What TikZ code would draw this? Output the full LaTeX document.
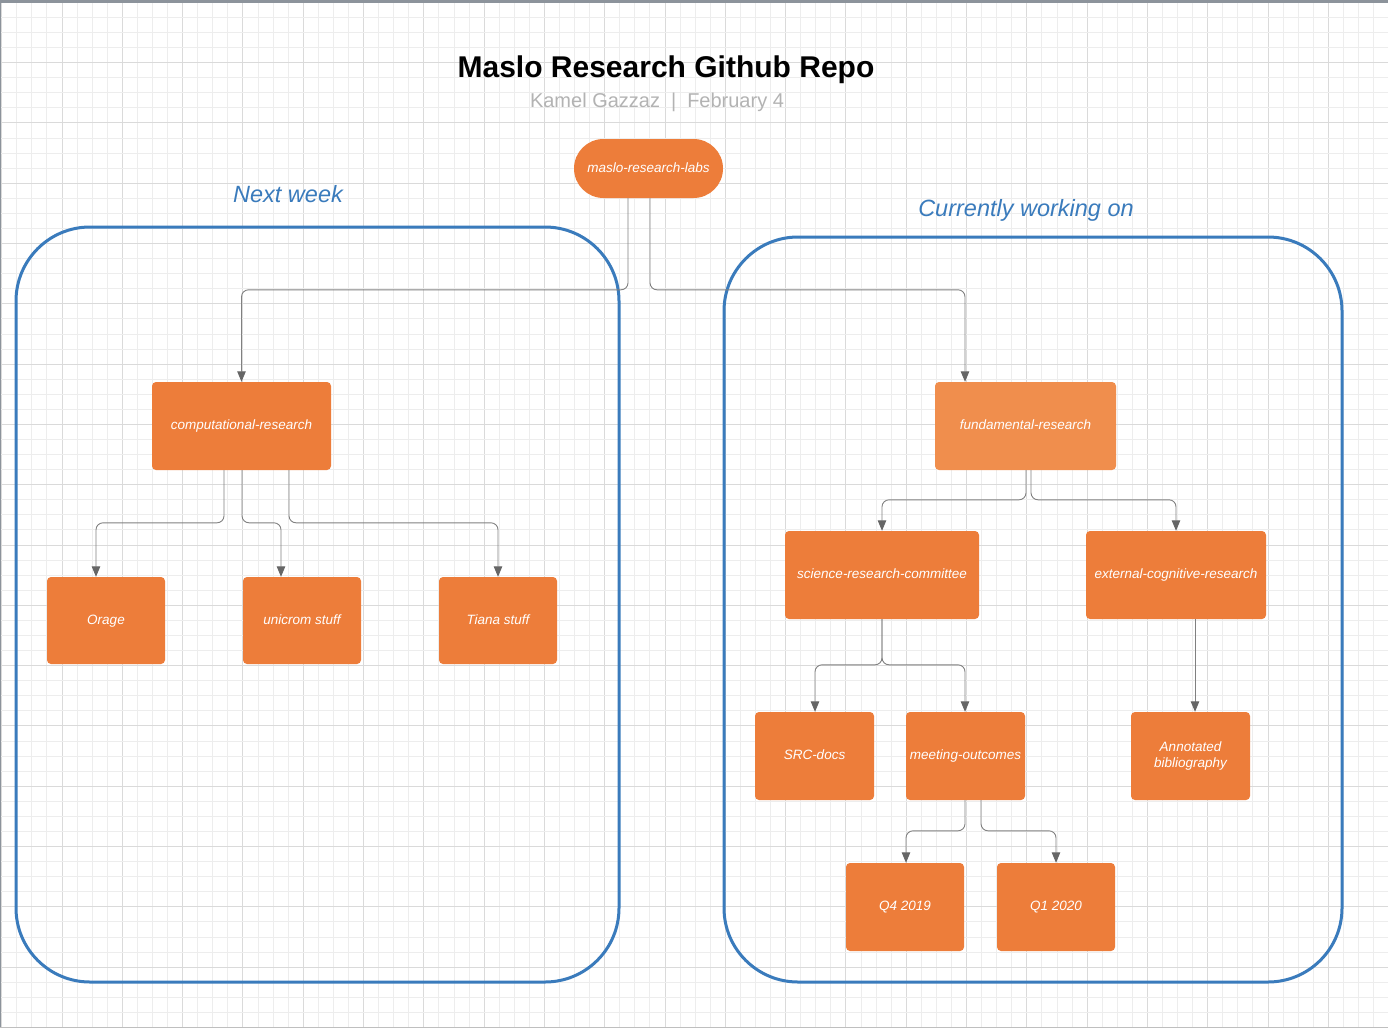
\documentclass[tikz,border=0pt]{standalone}
\usepackage{fontspec}
\setmainfont{Liberation Sans}
\usetikzlibrary{arrows.meta,calc}
\definecolor{boxorange}{HTML}{ED7D3A}
\definecolor{boxlight}{HTML}{F08E4D}
\definecolor{contblue}{HTML}{3A7BBC}
\definecolor{conngray}{HTML}{808080}
\definecolor{tipgray}{HTML}{666666}
\definecolor{gridminor}{HTML}{EDEDED}
\definecolor{gridmajor}{HTML}{DADADA}
\definecolor{framegray}{HTML}{8C939B}
\definecolor{subgray}{HTML}{B3B3B3}
\tikzset{
  orangebox/.style={fill=boxorange, draw=none, rounded corners=4pt, inner sep=0pt,
    text=white, font=\fontsize{13.5}{16}\selectfont\itshape, align=center,
    text height=9.8pt, text depth=2.6pt},
  conn/.style={draw=conngray, line width=0.9pt, rounded corners=7pt,
    -{Triangle[width=8.5pt,length=10.5pt,fill=tipgray,color=tipgray]}},
  container/.style={draw=contblue, line width=3pt, rounded corners=74pt},
  sectionlabel/.style={text=contblue, font=\fontsize{23.5}{28}\selectfont\itshape, anchor=base, inner sep=0pt},
}
\begin{document}
\begin{tikzpicture}[x=1pt,y=-1pt]
\useasboundingbox (0,0) rectangle (1388,1028);
\fill[white] (0,0) rectangle (1388,1028);
% grid
\foreach \i in {0,...,92} {
  \pgfmathsetmacro{\gx}{1.7+\i*15.075}
  \pgfmathtruncatemacro{\m}{mod(\i,4)}
  \ifnum\m=0
    \draw[gridmajor, line width=0.9pt] (\gx,0) -- (\gx,1028);
  \else
    \draw[gridminor, line width=0.9pt] (\gx,0) -- (\gx,1028);
  \fi
}
\foreach \i in {0,...,68} {
  \pgfmathsetmacro{\gy}{2.3+\i*15.075}
  \pgfmathtruncatemacro{\m}{mod(\i,4)}
  \ifnum\m=0
    \draw[gridmajor, line width=0.9pt] (0,\gy) -- (1388,\gy);
  \else
    \draw[gridminor, line width=0.9pt] (0,\gy) -- (1388,\gy);
  \fi
}
% frame
\fill[framegray] (0,0) rectangle (1388,3);
\fill[framegray] (0,0) rectangle (1.3,1028);
\fill[gray!50] (0,1026.5) rectangle (1388,1028);

% titles
\node[anchor=base, inner sep=0pt, font=\fontsize{30}{36}\selectfont\bfseries] (title) at (666,77) {Maslo Research Github Repo};
\node[anchor=base, inner sep=0pt, text=subgray, font=\fontsize{20}{24}\selectfont] (subtitle) at (657,107.7) {Kamel Gazzaz\hspace{11pt}|\hspace{11pt}February 4};

% containers
\draw[container] (16,227) rectangle (619,982);
\draw[container] (724,237) rectangle (1342,982);
\node[sectionlabel] (nextweek) at (288,202.3) {Next week};
\node[sectionlabel] (current) at (1026,216.7) {Currently working on};

% nodes
\node[orangebox, rounded corners=29.5pt, minimum width=149pt, minimum height=59pt] (root) at (648.5,168.5) {maslo-research-labs};
\node[orangebox, minimum width=179pt, minimum height=88pt] (comp) at (241.5,426) {computational-research};
\node[orangebox, minimum width=118pt, minimum height=87pt] (orage) at (106,620.5) {Orage};
\node[orangebox, minimum width=118pt, minimum height=87pt] (unicrom) at (302,620.5) {unicrom stuff};
\node[orangebox, minimum width=118pt, minimum height=87pt] (tiana) at (498,620.5) {Tiana stuff};
\node[orangebox, fill=boxlight, minimum width=181pt, minimum height=88pt] (fund) at (1025.5,426) {fundamental-research};
\node[orangebox, minimum width=194pt, minimum height=88pt] (sci) at (882,575) {science-research-committee};
\node[orangebox, minimum width=180pt, minimum height=88pt] (ext) at (1176,575) {external-cognitive-research};
\node[orangebox, minimum width=119pt, minimum height=88pt] (src) at (814.5,756) {SRC-docs};
\node[orangebox, minimum width=119pt, minimum height=88pt] (meet) at (965.5,756) {meeting-outcomes};
\node[orangebox, minimum width=119pt, minimum height=88pt, text height=, text depth=] (annot) at (1190.5,756) {Annotated\\bibliography};
\node[orangebox, minimum width=118pt, minimum height=88pt] (q4) at (905,907) {Q4 2019};
\node[orangebox, minimum width=118pt, minimum height=88pt] (q1) at (1056,907) {Q1 2020};

% connectors
\draw[conn] ([xshift=-20.5pt]root.south) |- ([yshift=92pt]comp.north) -- (comp.north);
\draw[conn] ([xshift=1.5pt]root.south) |- ([xshift=-60.5pt,yshift=92pt]fund.north) -- ([xshift=-60.5pt]fund.north);
\draw[conn] ([xshift=-17.5pt]comp.south) |- ([xshift=-10pt,yshift=54pt]orage.north) -- ([xshift=-10pt]orage.north);
\draw[conn] ([xshift=0.5pt]comp.south) |- ([xshift=-21pt,yshift=54pt]unicrom.north) -- ([xshift=-21pt]unicrom.north);
\draw[conn] ([xshift=47.5pt]comp.south) |- ([yshift=54pt]tiana.north) -- (tiana.north);
\draw[conn] ([xshift=0.5pt]fund.south) |- ([yshift=31pt]sci.north) -- (sci.north);
\draw[conn] ([xshift=5.5pt]fund.south) |- ([yshift=31pt]ext.north) -- (ext.north);
\draw[conn] (sci.south) |- ([xshift=0.5pt,yshift=47pt]src.north) -- ([xshift=0.5pt]src.north);
\draw[conn] (sci.south) |- ([xshift=-0.5pt,yshift=47pt]meet.north) -- ([xshift=-0.5pt]meet.north);
\draw[conn] ([xshift=19pt]ext.south) -- ([xshift=4.5pt]annot.north);
\draw[conn] ([xshift=-0.5pt]meet.south) |- ([xshift=1pt,yshift=32pt]q4.north) -- ([xshift=1pt]q4.north);
\draw[conn] ([xshift=15.5pt]meet.south) |- ([yshift=32pt]q1.north) -- (q1.north);
\end{tikzpicture}
\end{document}
